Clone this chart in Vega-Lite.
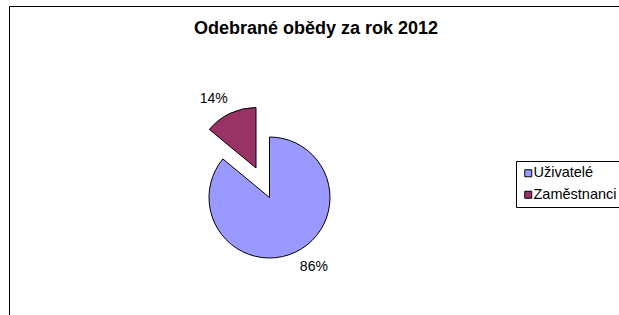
{
  "$schema": "https://vega.github.io/schema/vega-lite/v6.json",
  "width": 620,
  "height": 320,
  "autosize": {"type": "none"},
  "padding": {"left": 9, "top": 6, "right": 0, "bottom": 0},
  "background": "white",
  "view": {"stroke": "black", "strokeWidth": 1},
  "title": {
    "text": "Odebrané obědy za rok 2012",
    "font": "Liberation Sans",
    "fontSize": 18,
    "fontWeight": "bold",
    "color": "black",
    "anchor": "middle",
    "frame": "group",
    "offset": -46,
    "baseline": "alphabetic",
    "dx": -3
  },
  "config": {"view": {"stroke": "black", "strokeWidth": 1}, "style": {"cell": {"stroke": "black", "strokeWidth": 1}}},
  "data": {
    "values": [
      {"category": "Uživatelé", "value": 86, "label": "86%"},
      {"category": "Zaměstnanci", "value": 14, "label": "14%"}
    ]
  },
  "layer": [
    {
      "transform": [
        {"stack": "value", "groupby": [], "sort": [{"field": "value", "order": "descending"}], "as": ["v0", "v1"]},
        {"filter": "datum.category === 'Uživatelé'"}
      ],
      "mark": {"type": "arc", "radius": 60.5, "stroke": "black", "strokeWidth": 1, "xOffset": -49.5, "yOffset": 31.5},
      "encoding": {
        "theta": {"field": "v0", "type": "quantitative", "scale": {"domain": [0, 100]}},
        "theta2": {"field": "v1"},
        "color": {
          "field": "category", "type": "nominal",
          "scale": {"domain": ["Uživatelé", "Zaměstnanci"], "range": ["#9999FF", "#993366"]},
          "legend": {
            "orient": "none", "legendX": 507, "legendY": 155, "title": null,
            "symbolType": "square", "symbolSize": 49, "symbolStrokeColor": "black", "symbolStrokeWidth": 1,
            "labelFont": "Liberation Sans", "labelFontSize": 14.5, "labelColor": "black", "labelOffset": -2,
            "strokeColor": "black", "fillColor": "white", "padding": 5, "rowPadding": 6.5, "labelLimit": 300
          }
        }
      }
    },
    {
      "transform": [
        {"stack": "value", "groupby": [], "sort": [{"field": "value", "order": "descending"}], "as": ["v0", "v1"]},
        {"filter": "datum.category === 'Zaměstnanci'"}
      ],
      "mark": {"type": "arc", "radius": 60.5, "stroke": "black", "strokeWidth": 1, "xOffset": -63, "yOffset": 2},
      "encoding": {
        "theta": {"field": "v0", "type": "quantitative", "scale": {"domain": [0, 100]}},
        "theta2": {"field": "v1"},
        "color": {
          "field": "category", "type": "nominal",
          "scale": {"domain": ["Uživatelé", "Zaměstnanci"], "range": ["#9999FF", "#993366"]},
          "legend": {
            "orient": "none", "legendX": 507, "legendY": 155, "title": null,
            "symbolType": "square", "symbolSize": 49, "symbolStrokeColor": "black", "symbolStrokeWidth": 1,
            "labelFont": "Liberation Sans", "labelFontSize": 14.5, "labelColor": "black", "labelOffset": -2,
            "strokeColor": "black", "fillColor": "white", "padding": 5, "rowPadding": 6.5, "labelLimit": 300
          }
        }
      }
    },
    {
      "mark": {"type": "text", "radius": 76, "font": "Liberation Sans", "fontSize": 14, "color": "black", "align": "center", "baseline": "middle", "xOffset": -37.5, "yOffset": 32.5},
      "encoding": {
        "theta": {"field": "value", "type": "quantitative", "stack": true},
        "detail": {"field": "category"},
        "order": {"field": "value", "sort": "descending"},
        "text": {"condition": {"test": "datum.category === 'Uživatelé'", "field": "label", "type": "nominal"}, "value": ""}
      }
    },
    {
      "mark": {"type": "text", "radius": 76, "font": "Liberation Sans", "fontSize": 14, "color": "black", "align": "center", "baseline": "middle", "xOffset": -73, "yOffset": 2},
      "encoding": {
        "theta": {"field": "value", "type": "quantitative", "stack": true},
        "detail": {"field": "category"},
        "order": {"field": "value", "sort": "descending"},
        "text": {"condition": {"test": "datum.category === 'Zaměstnanci'", "field": "label", "type": "nominal"}, "value": ""}
      }
    }
  ]
}
